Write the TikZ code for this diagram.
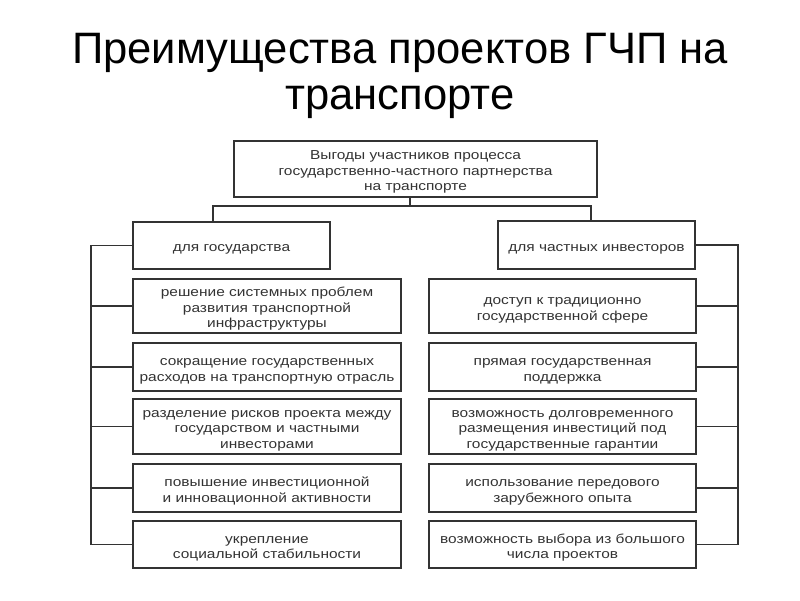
\documentclass[tikz,border=0pt]{standalone}
\usepackage{fontspec}
\setmainfont{Liberation Sans}
\newfontfamily\titlefont{Liberation Sans}[FakeStretch=0.99]
\newfontfamily\boxfont{Liberation Sans}[FakeStretch=1.19]
\usetikzlibrary{calc}
\definecolor{ink}{HTML}{333333}
\newcommand{\fs}{\rule{0pt}{15.5pt}}
\tikzset{
  bx/.style={draw=ink, line width=1.3pt, align=center, inner sep=0pt, text=ink,
    font=\boxfont\fontsize{13}{15.5}\selectfont},
  ttl/.style={anchor=base, font=\titlefont\fontsize{44}{50}\selectfont, text=black, inner sep=0pt},
  cn/.style={draw=ink, line width=1.3pt},
}
\begin{document}
\begin{tikzpicture}[x=1pt,y=-1pt]
\useasboundingbox[fill=white] (0,0) rectangle (800,600);
\node[ttl] (t1) at (400,63) {Преимущества проектов ГЧП на};
\node[ttl] (t2) at (400,109) {транспорте};

\node[bx, minimum width=363, minimum height=56] (top) at (415.5,169)
  {\fs Выгоды участников процесса\\государственно-частного партнерства\\на транспорте};
\node[bx, minimum width=197, minimum height=47] (gl) at (231.5,245.5) {\fs для государства};
\node[bx, minimum width=197, minimum height=48] (gr) at (596.5,245) {\fs для частных инвесторов};

\node[bx, minimum width=268, minimum height=54] (l1) at (267,306)
  {\fs решение системных проблем\\развития транспортной\\инфраструктуры};
\node[bx, minimum width=268, minimum height=48] (l2) at (267,367)
  {\fs сокращение государственных\\расходов на транспортную отрасль};
\node[bx, minimum width=268, minimum height=55] (l3) at (267,426.5)
  {\fs разделение рисков проекта между\\государством и частными\\инвесторами};
\node[bx, minimum width=268, minimum height=48] (l4) at (267,488)
  {\fs повышение инвестиционной\\и инновационной активности};
\node[bx, minimum width=268, minimum height=47] (l5) at (267,544.5)
  {\fs укрепление\\социальной стабильности};

\node[bx, minimum width=267, minimum height=54] (r1) at (562.5,306)
  {\fs доступ к традиционно\\государственной сфере};
\node[bx, minimum width=267, minimum height=48] (r2) at (562.5,367)
  {\fs прямая государственная\\поддержка};
\node[bx, minimum width=267, minimum height=55] (r3) at (562.5,426.5)
  {\fs возможность долговременного\\размещения инвестиций под\\государственные гарантии};
\node[bx, minimum width=267, minimum height=48] (r4) at (562.5,488)
  {\fs использование передового\\зарубежного опыта};
\node[bx, minimum width=267, minimum height=47] (r5) at (562.5,544.5)
  {\fs возможность выбора из большого\\числа проектов};

\coordinate (hub) at (410,206);
\coordinate (dl) at (213,206);
\coordinate (dr) at (591,206);
\coordinate (bl) at (91,0);
\coordinate (br) at (738,0);

\draw[cn] (hub |- top.south) -- (hub);
\draw[cn] (dl |- gl.north) -- (dl) -- (dr) -- (dr |- gr.north);

\draw[cn] (gl.west) -- (gl.west -| bl) -- (l5.west -| bl) -- (l5.west);
\foreach \n in {l1,l2,l3,l4} \draw[cn] (\n.west -| bl) -- (\n.west);
\draw[cn] (gr.east) -- (gr.east -| br) -- (r5.east -| br) -- (r5.east);
\foreach \n in {r1,r2,r3,r4} \draw[cn] (\n.east -| br) -- (\n.east);
\end{tikzpicture}
\end{document}
